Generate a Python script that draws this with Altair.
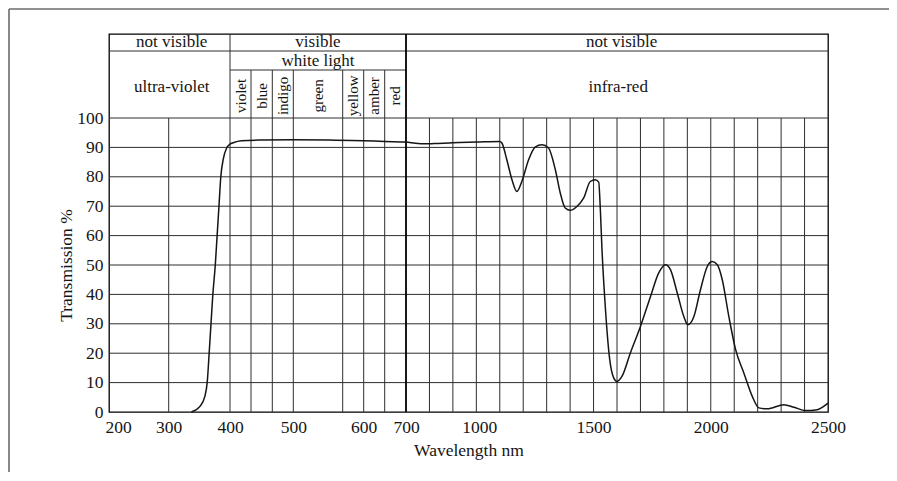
import altair as alt
import pandas as pd

# ---------------- data ----------------
wavelength = [337, 351, 359, 363, 366, 369, 372, 376, 379, 382,
              385, 389, 395, 400, 405, 418, 450, 500, 550, 600,
              650, 700, 740, 780, 820, 900, 1000, 1100, 1109, 1130,
              1152, 1173, 1194, 1223, 1251, 1280, 1308, 1337, 1358, 1379,
              1401, 1429, 1458, 1486, 1507, 1522, 1529, 1536, 1550, 1569,
              1586, 1600, 1621, 1657, 1700, 1743, 1778, 1807, 1828, 1857,
              1885, 1902, 1928, 1956, 1985, 2006, 2028, 2049, 2077, 2106,
              2141, 2177, 2205, 2241, 2312, 2355, 2404, 2454, 2500]
transmission = [0, 1.9, 5.3, 10.5, 20, 30, 40, 50, 60, 70,
                80, 86, 90, 91.1, 91.6, 92.3, 92.5, 92.6, 92.5, 92.3,
                92.0, 91.8, 91.4, 91.2, 91.3, 91.6, 91.8, 92.0, 91.5, 85.8,
                79.0, 75.0, 78.4, 85.8, 90.1, 90.9, 89.8, 82.4, 74.5, 69.4,
                68.6, 69.9, 72.8, 78.4, 79.0, 78.2, 68.8, 55.2, 35.9, 17.8,
                11.6, 10.4, 12.1, 20.1, 29.1, 39.3, 47.3, 50.1, 48.4, 40.5,
                32.5, 29.7, 32.5, 41.6, 49.5, 51.2, 50.1, 45.0, 32.5, 21.2,
                13.3, 5.3, 1.4, 1.1, 2.5, 1.6, 0.5, 0.8, 3.0]

x_tick_values = [200, 300, 400, 500, 600, 700, 1000, 1500, 2000, 2500]
y_tick_values = [0, 10, 20, 30, 40, 50, 60, 70, 80, 90, 100]

band_names = ["violet", "blue", "indigo", "green", "yellow", "amber", "red"]
band_edges = [400, 433, 467, 500, 570, 600, 650, 700]

top_labels = ["not visible", "visible", "not visible"]
top_centers = [305, 535, 1620]
sub_labels = ["ultra-violet", "infra-red"]
sub_centers = [305, 1605]
white_label = "white light"
white_center = 535

uv_grid = [300]
ir_grid = list(range(800, 2500, 100))
h_grid = [10, 20, 30, 40, 50, 60, 70, 80, 90, 100]

# header levels (in y units above 100)
band_row_top = 110
top_row_bottom = 120
header_top = 130

# piecewise (non-linear) wavelength axis anchors of the original drawing
x_anchor_nm = [200, 300, 400, 433, 467, 500, 570, 600, 650, 700, 2500]
x_anchor_px = [0, 59.7, 121, 142, 163.3, 184.3, 233.7, 254.7, 275.7, 297, 719]
y_anchor_val = [0, 100, band_row_top, top_row_bottom, header_top]
y_anchor_px = [378, 84, 36, 17, 0]

FONT = "Liberation Serif"
INK = "#151515"

xs = alt.Scale(domain=x_anchor_nm, range=x_anchor_px, nice=False, zero=False)
ys = alt.Scale(domain=y_anchor_val, range=y_anchor_px, nice=False, zero=False)

X_AXIS = alt.Axis(
    values=x_tick_values, format="d", title="Wavelength nm", grid=False, ticks=False, tickSize=0,
    domain=False, labelFont=FONT, labelFontSize=17.5, labelColor=INK,
    labelBaseline="alphabetic", labelPadding=20, labelFlush=False, labelOverlap=False,
    labelOffset={"expr": "datum.value === 200 ? 9 : (datum.value === 1000 ? 3 : 0)"},
    titleFont=FONT, titleFontSize=17.5, titleFontWeight="normal", titleColor=INK,
    titleBaseline="alphabetic", titleY=43)
Y_AXIS = alt.Axis(
    values=y_tick_values, format="d", title="Transmission %", grid=False, ticks=False, tickSize=0,
    domain=False, labelFont=FONT, labelFontSize=17.5, labelColor=INK,
    labelPadding=6, labelOverlap=False, labelFlush=False,
    titleFont=FONT, titleFontSize=17.5, titleFontWeight="normal", titleColor=INK,
    titleX=-43, titleY=231, titleAlign="center", titleBaseline="middle")


def X(field):
    return alt.X(field, scale=xs, axis=X_AXIS)


def Y(field):
    return alt.Y(field, scale=ys, axis=Y_AXIS)


curve = pd.DataFrame({"wl": wavelength, "t": transmission})

# vertical rules
v_rows = []
for w in uv_grid + ir_grid:
    v_rows.append({"wl": w, "t": 0, "t1": 100})
for w in band_edges[1:-1]:
    v_rows.append({"wl": w, "t": 0, "t1": band_row_top})
v_rows.append({"wl": band_edges[0], "t": 0, "t1": header_top})
vdf = pd.DataFrame(v_rows)
thick_df = pd.DataFrame({"wl": [band_edges[-1]], "t": [0], "t1": [header_top]})

# horizontal rules
h_rows = [{"t": v, "wl": x_anchor_nm[0], "wl1": x_anchor_nm[-1]} for v in h_grid]
h_rows.append({"t": top_row_bottom, "wl": x_anchor_nm[0], "wl1": x_anchor_nm[-1]})
h_rows.append({"t": band_row_top, "wl": band_edges[0], "wl1": band_edges[-1]})
hdf = pd.DataFrame(h_rows)

vgrid = alt.Chart(vdf).mark_rule(color="#2e2e2e", strokeWidth=1).encode(
    x=X("wl:Q"), y=Y("t:Q"), y2="t1:Q")
thick = alt.Chart(thick_df).mark_rule(color="#000", strokeWidth=1.8).encode(
    x=X("wl:Q"), y=Y("t:Q"), y2="t1:Q")
hgrid = alt.Chart(hdf).mark_rule(color="#2e2e2e", strokeWidth=1).encode(
    y=Y("t:Q"), x=X("wl:Q"), x2="wl1:Q")

line = alt.Chart(curve).mark_line(color=INK, strokeWidth=1.5, interpolate="monotone").encode(
    x=X("wl:Q"), y=Y("t:Q"))

hdr = pd.DataFrame({
    "label": top_labels + [white_label] + sub_labels,
    "wl": top_centers + [white_center] + sub_centers,
    "t": [125.3, 125.3, 125.3, 115, 106.5, 106.5],
})
hdr_text = alt.Chart(hdr).mark_text(font=FONT, fontSize=17, color=INK, baseline="middle").encode(
    x=X("wl:Q"), y=Y("t:Q"), text="label:N")

bands = pd.DataFrame({
    "label": band_names,
    "wl": [(band_edges[i] + band_edges[i + 1]) / 2 for i in range(len(band_names))],
    "t": [104.6] * len(band_names),
})
band_text = alt.Chart(bands).mark_text(font=FONT, fontSize=15, color=INK, angle=270,
                                       baseline="middle", align="center").encode(
    x=X("wl:Q"), y=Y("t:Q"), text="label:N")

one = pd.DataFrame({"k": [0]})
frame_top = alt.Chart(one).mark_rule(color="#6b6b6b", strokeWidth=1.6).encode(
    x=alt.value(-100), x2=alt.value(780), y=alt.value(-25))
frame_left = alt.Chart(one).mark_rule(color="#6b6b6b", strokeWidth=1.6).encode(
    x=alt.value(-100), y=alt.value(-25), y2=alt.value(439))

chart = alt.layer(
    vgrid, hgrid, thick, line, hdr_text, band_text, frame_top, frame_left
).properties(
    width=719, height=378,
    background="white",
    autosize=alt.AutoSizeParams(type="none"),
    padding={"left": 101, "top": 26, "right": 61, "bottom": 60},
).configure_view(
    stroke="#000", strokeWidth=1.3
)

chart.save("out.html", embed_options={"renderer": "svg", "actions": False})
